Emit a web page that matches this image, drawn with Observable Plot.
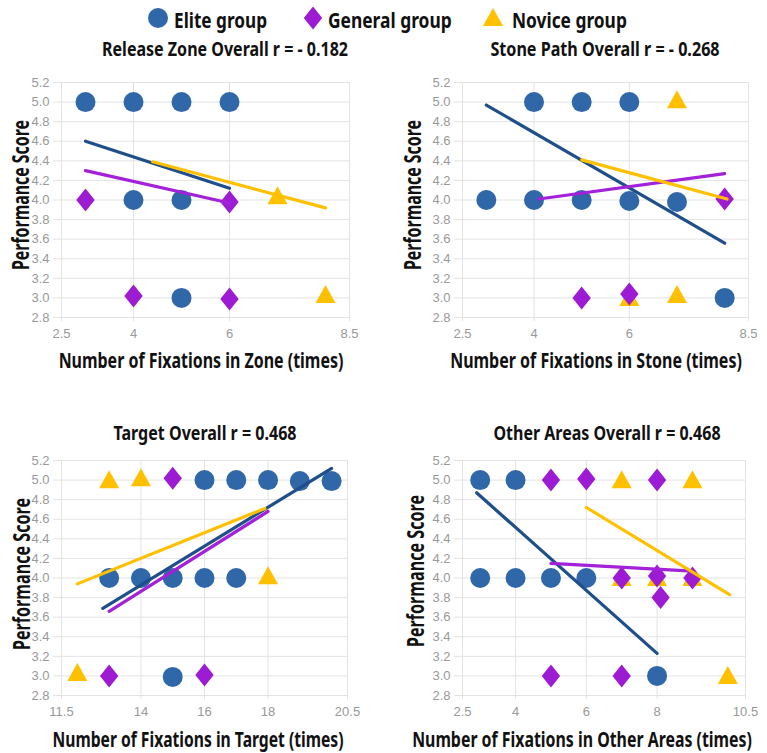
<!DOCTYPE html>
<html><head><meta charset="utf-8">
<script src="https://cdn.jsdelivr.net/npm/d3@7"></script>
<script src="https://cdn.jsdelivr.net/npm/@observablehq/plot@0.6"></script>
<style>
body{margin:0;background:#fff;}
#root{position:relative;width:767px;height:753px;overflow:hidden;background:#fff;}
.t{position:absolute;white-space:nowrap;font-family:"Noto Sans","Open Sans","Roboto",sans-serif;font-weight:bold;color:#111;line-height:1;}
.panel{position:absolute;}
.sym{position:absolute;}
</style></head><body><div id="root"></div>
<script>
// ---------- data ----------
const groups = ["Elite group", "General group", "Novice group"];
const markerColors = ["#2f67a8", "#9c1bd3", "#ffc000"];
const lineColors = ["#1f4f8b", "#a321d8", "#ffc000"];
const titles = ["Release Zone Overall r = - 0.182", "Stone Path Overall r = - 0.268", "Target Overall r = 0.468", "Other Areas Overall r = 0.468"];
const xLabels = ["Number of Fixations in Zone (times)", "Number of Fixations in Stone (times)", "Number of Fixations in Target (times)", "Number of Fixations in Other Areas (times)"];
const yLabel = "Performance Score";
const yTicks = [2.8, 3.0, 3.2, 3.4, 3.6, 3.8, 4.0, 4.2, 4.4, 4.6, 4.8, 5.0, 5.2];
const xTicksZone = [2.5, 4, 6, 8.5];
const xTicksStone = [2.5, 4, 6, 8.5];
const xTicksTarget = [11.5, 14, 16, 18, 20.5];
const xTicksOther = [2.5, 4, 6, 8, 10.5];

// Release Zone
const zoneEliteX = [3, 4, 5, 6, 4, 5, 5];
const zoneEliteY = [5, 5, 5, 5, 4, 4, 3];
const zoneGeneralX = [3, 6, 4, 6];
const zoneGeneralY = [4, 3.98, 3.02, 2.99];
const zoneNoviceX = [7, 8];
const zoneNoviceY = [4.04, 3.03];
const zoneTrendElite = [[3, 4.6], [6, 4.12]];
const zoneTrendGeneral = [[3, 4.3], [6, 3.97]];
const zoneTrendNovice = [[4.4, 4.39], [8, 3.92]];

// Stone Path
const stoneEliteX = [4, 5, 6, 3, 4, 5, 6, 7, 8];
const stoneEliteY = [5, 5, 5, 4, 4, 4, 3.99, 3.98, 3];
const stoneGeneralX = [8, 5, 6];
const stoneGeneralY = [4.01, 3.0, 3.04];
const stoneNoviceX = [7, 6, 7];
const stoneNoviceY = [5.02, 3.0, 3.03];
const stoneTrendElite = [[3, 4.97], [8, 3.56]];
const stoneTrendGeneral = [[4.1, 4.01], [8, 4.27]];
const stoneTrendNovice = [[5, 4.41], [8.05, 4.01]];

// Target
const targetEliteX = [16, 17, 18, 19, 20, 13, 14, 15, 16, 17, 15];
const targetEliteY = [5, 5, 5, 4.99, 4.99, 4, 4, 4, 4, 4, 2.99];
const targetGeneralX = [15, 13, 16];
const targetGeneralY = [5.02, 3.0, 3.01];
const targetNoviceX = [13, 14, 18, 12];
const targetNoviceY = [5.0, 5.02, 4.02, 3.03];
const targetTrendElite = [[12.8, 3.69], [20, 5.12]];
const targetTrendGeneral = [[13, 3.66], [18, 4.68]];
const targetTrendNovice = [[12, 3.94], [17.9, 4.71]];

// Other Areas
const otherEliteX = [3, 4, 3, 4, 5, 6, 8];
const otherEliteY = [5, 5, 4, 4, 4, 4, 3];
const otherGeneralX = [5, 6, 8, 7, 8, 8.1, 9, 5, 7];
const otherGeneralY = [5, 5.01, 5, 4, 4.02, 3.8, 4, 3, 3];
const otherNoviceX = [7, 9, 7, 8, 9, 10];
const otherNoviceY = [5, 5, 4, 4, 4, 3];
const otherTrendElite = [[2.9, 4.87], [8, 3.23]];
const otherTrendGeneral = [[5, 4.15], [9, 4.07]];
const otherTrendNovice = [[6, 4.72], [10.05, 3.83]];

// ---------- symbols ----------
const circleSym = "circle";
const diamondSym = {draw(ctx, size) {
  const r = Math.sqrt(size / Math.PI), w = r * 0.92, h = r * 1.15;
  ctx.moveTo(0, -h); ctx.lineTo(w, 0); ctx.lineTo(0, h); ctx.lineTo(-w, 0); ctx.closePath();
}};
const triangleSym = {draw(ctx, size) {
  const r = Math.sqrt(size / Math.PI), w = r * 1.0, h = r * 1.8;
  ctx.moveTo(0, -h * 0.55); ctx.lineTo(w, h * 0.45); ctx.lineTo(-w, h * 0.45); ctx.closePath();
}};
const symbols = [circleSym, diamondSym, triangleSym];

const root = document.getElementById("root");
// place a text; squeeze horizontally to the width it takes in the reference
function addText(txt, x, y, size, targetW, mode) {
  const d = document.createElement("div");
  d.className = "t";
  d.textContent = txt;
  d.style.left = x + "px"; d.style.top = y + "px"; d.style.fontSize = size + "px";
  root.appendChild(d);
  const w = d.offsetWidth;
  const s = targetW / w;
  if (mode === "left") {
    d.style.transformOrigin = "0 50%";
    d.style.transform = `translate(0,-50%) scaleX(${s})`;
  } else if (mode === "rot") {
    d.style.transform = `translate(-50%,-50%) rotate(-90deg) scaleX(${s})`;
  } else {
    d.style.transform = `translate(-50%,-50%) scaleX(${s})`;
  }
  return d;
}

function pts(xs, ys) { return xs.map((x, i) => ({x, y: ys[i]})); }

function panel(cfg) {
  const {left, top, width, height, ml, mr, mt, mb, xDomain, xTicks, elite, general, novice, trends} = cfg;
  const order = [[2, novice], [0, elite], [1, general]];
  const marks = [
    Plot.gridY(yTicks, {stroke: "#e3e3e3", strokeOpacity: 1, strokeWidth: 1, insetLeft: -8}),
    Plot.gridX(xTicks, {stroke: "#e3e3e3", strokeOpacity: 1, strokeWidth: 1, insetBottom: -4}),
    Plot.axisY(yTicks, {tickSize: 0, tickPadding: 12, tickFormat: d3.format(".1f"), label: null, color: "#999", fontSize: 13}),
    Plot.axisX(xTicks, {tickSize: 0, tickPadding: 11, tickFormat: d => String(d), label: null, color: "#999", fontSize: 13})
  ];
  for (const [g, data] of order) {
    marks.push(Plot.dot(data, {x: "x", y: "y", r: 10, fill: markerColors[g], stroke: "none", symbol: symbols[g]}));
  }
  trends.forEach((tr, g) => {
    marks.push(Plot.line(tr, {x: d => d[0], y: d => d[1], stroke: lineColors[g], strokeWidth: 3.2}));
  });
  const svg = Plot.plot({
    width, height, marginLeft: ml, marginRight: mr, marginTop: mt, marginBottom: mb,
    x: {domain: xDomain, type: "linear"},
    y: {domain: [2.8, 5.2]},
    style: {fontFamily: "'Liberation Sans', Arial, sans-serif", fontSize: "13px", background: "transparent", overflow: "visible"},
    marks
  });
  svg.classList.add("panel");
  svg.style.left = left + "px"; svg.style.top = top + "px";
  root.appendChild(svg);
}

panel({left: 0, top: 70, width: 380, height: 310, ml: 61, mr: 31, mt: 12, mb: 63,
  xDomain: [2.5, 8.5], xTicks: xTicksZone,
  elite: pts(zoneEliteX, zoneEliteY), general: pts(zoneGeneralX, zoneGeneralY), novice: pts(zoneNoviceX, zoneNoviceY),
  trends: [zoneTrendElite, zoneTrendGeneral, zoneTrendNovice]});
panel({left: 380, top: 70, width: 387, height: 310, ml: 82, mr: 19, mt: 12, mb: 63,
  xDomain: [2.5, 8.5], xTicks: xTicksStone,
  elite: pts(stoneEliteX, stoneEliteY), general: pts(stoneGeneralX, stoneGeneralY), novice: pts(stoneNoviceX, stoneNoviceY),
  trends: [stoneTrendElite, stoneTrendGeneral, stoneTrendNovice]});
panel({left: 0, top: 420, width: 380, height: 333, ml: 61, mr: 33, mt: 40, mb: 58,
  xDomain: [11.5, 20.5], xTicks: xTicksTarget,
  elite: pts(targetEliteX, targetEliteY), general: pts(targetGeneralX, targetGeneralY), novice: pts(targetNoviceX, targetNoviceY),
  trends: [targetTrendElite, targetTrendGeneral, targetTrendNovice]});
panel({left: 380, top: 420, width: 387, height: 333, ml: 82, mr: 22, mt: 40, mb: 58,
  xDomain: [2.5, 10.5], xTicks: xTicksOther,
  elite: pts(otherEliteX, otherEliteY), general: pts(otherGeneralX, otherGeneralY), novice: pts(otherNoviceX, otherNoviceY),
  trends: [otherTrendElite, otherTrendGeneral, otherTrendNovice]});

// titles
addText(titles[0], 225, 49, 20, 246);
addText(titles[1], 605, 49, 20, 229);
addText(titles[2], 205, 433, 20, 183);
addText(titles[3], 607, 433, 20, 227);
// axis titles
addText(xLabels[0], 201, 359, 22, 285);
addText(xLabels[1], 596, 359, 22, 292);
addText(xLabels[2], 198, 738, 22, 291);
addText(xLabels[3], 582, 738, 22, 340);
addText(yLabel, 20, 195, 23, 150, "rot");
addText(yLabel, 412, 195, 23, 150, "rot");
addText(yLabel, 21, 574, 23, 152, "rot");
addText(yLabel, 415, 571, 23, 152, "rot");

// legend
const legendSymX = [158, 313, 493];
const legendTextX = [174, 328, 512];
const legendTextW = [93, 124, 115];
groups.forEach((g, i) => {
  const s = d3.create("svg").attr("width", 26).attr("height", 30).attr("class", "sym")
    .style("left", (legendSymX[i] - 13) + "px").style("top", (18 - 15) + "px");
  const sym = typeof symbols[i] === "string" ? d3.symbolCircle : symbols[i];
  s.append("path").attr("transform", "translate(13,15)").attr("d", d3.symbol(sym, Math.PI * 100)()).attr("fill", markerColors[i]);
  root.appendChild(s.node());
  addText(g, legendTextX[i], 19, 22, legendTextW[i], "left");
});
</script></body></html>
